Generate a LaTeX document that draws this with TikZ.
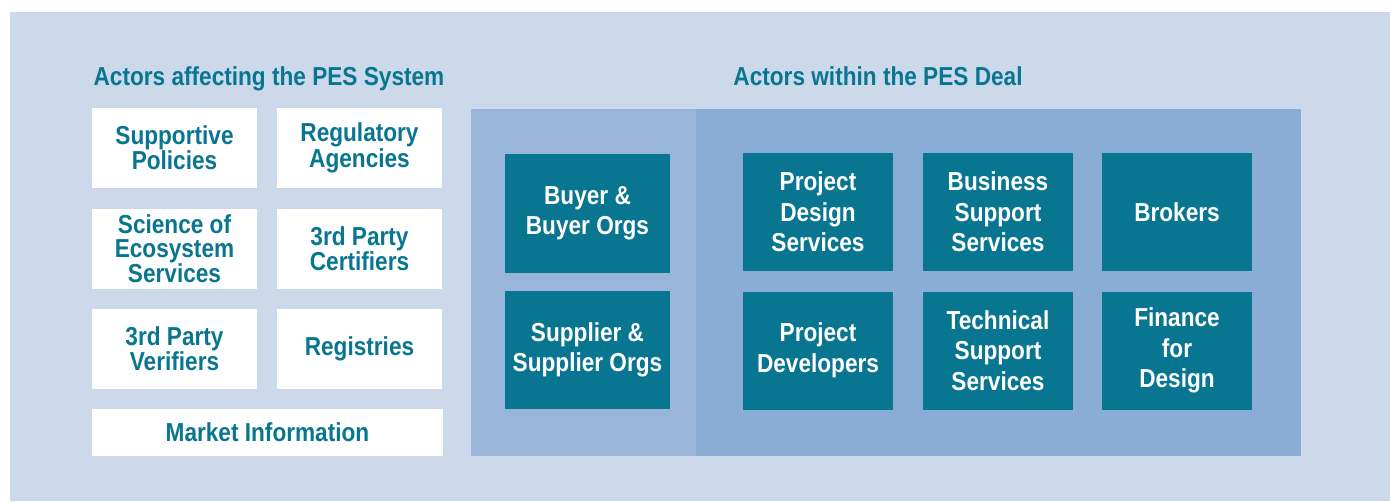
\documentclass[tikz,border=0pt]{standalone}
\usepackage{fontspec}
\newfontfamily\condfont[FakeStretch=0.87]{Liberation Sans}
\definecolor{bgouter}{RGB}{204,217,235}
\definecolor{panelA}{RGB}{154,181,218}
\definecolor{panelB}{RGB}{138,173,213}
\definecolor{teal}{RGB}{8,117,145}
\tikzset{
  lightbox/.style={draw=none,fill=white,text=teal,inner sep=0pt,align=center,
    minimum width=165pt,minimum height=80pt,font=\condfont\bfseries\fontsize{26}{24}\selectfont},
  darkbox/.style={draw=none,fill=teal,text=white,inner sep=0pt,align=center,
    minimum width=150pt,minimum height=118pt,font=\condfont\bfseries\fontsize{26}{30.5}\selectfont},
  titletext/.style={text=teal,inner sep=0pt,font=\condfont\bfseries\fontsize{26}{30}\selectfont}
}
\begin{document}
\begin{tikzpicture}[x=1pt,y=-1pt]
\useasboundingbox (0,0) rectangle (1390,501);
\fill[bgouter] (10,12) rectangle (1390,501);
\fill[panelB] (471,109) rectangle (1301,456);
\fill[panelA] (471,109) rectangle (696,456);
\node[titletext] (t1) at (269,79) {Actors affecting the PES System};
\node[titletext] (t2) at (878,76) {Actors within the PES Deal};
\node[lightbox] (sp) at (174.5,148) {Supportive\\Policies};
\node[lightbox] (ra) at (359.5,148) {Regulatory\\Agencies};
\node[lightbox] (se) at (174.5,249) {Science of\\Ecosystem\\Services};
\node[lightbox] (pc) at (359.5,249) {3rd Party\\Certifiers};
\node[lightbox] (pv) at (174.5,349) {3rd Party\\Verifiers};
\node[lightbox] (rg) at (359.5,349) {Registries};
\node[lightbox,minimum width=351pt,minimum height=47pt] (mi) at (267.5,432.5) {Market Information};
\node[darkbox,minimum width=165pt,minimum height=119pt] (bb) at (587.5,213.5) {Buyer \&\\Buyer Orgs};
\node[darkbox,minimum width=165pt] (ss) at (587.5,350) {Supplier \&\\Supplier Orgs};
\node[darkbox] (pd) at (818,212) {Project\\Design\\Services};
\node[darkbox] (bs) at (998,212) {Business\\Support\\Services};
\node[darkbox] (br) at (1177,212) {Brokers};
\node[darkbox] (dv) at (818,350.5) {Project\\Developers};
\node[darkbox] (ts) at (998,350.5) {Technical\\Support\\Services};
\node[darkbox] (fd) at (1177,350.5) {Finance\\for\\Design};
\end{tikzpicture}
\end{document}
